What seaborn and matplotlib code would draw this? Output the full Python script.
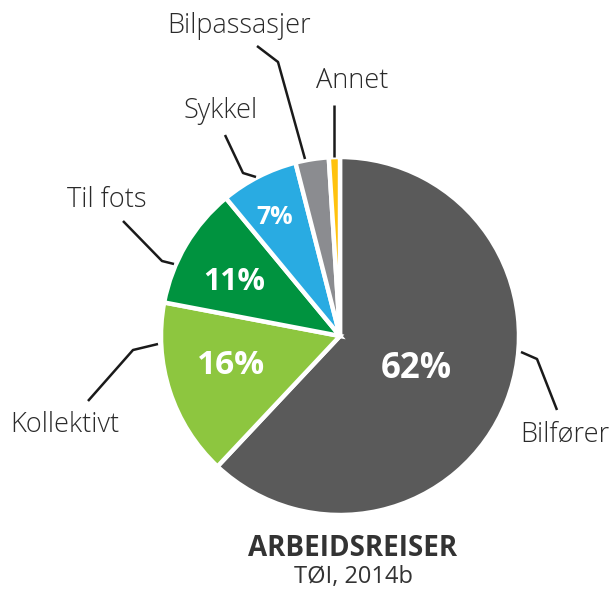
import matplotlib
matplotlib.use("Agg")
import matplotlib.pyplot as plt
import seaborn as sns

sns.set_theme(style="white")
plt.rcParams['font.family'] = ['Open Sans', 'DejaVu Sans']

# data
categories = ["Bilfører", "Kollektivt", "Til fots", "Sykkel", "Bilpassasjer", "Annet"]
shares = [62, 16, 11, 7, 3, 1]
pct_labels = ["62%", "16%", "11%", "7%", "", ""]
colors = ["#5a5a5a", "#8dc63f", "#00933f", "#29abe2", "#8b8c90", "#ffc20e"]
title = "ARBEIDSREISER"
source = "TØI, 2014b"

W, H = 613, 589
fig = plt.figure(figsize=(W / 100, H / 100), dpi=100)
ax = fig.add_axes([0, 0, 1, 1])

center = (340, H - 336)
radius = 179
wedges, _ = ax.pie(
    shares,
    colors=colors,
    startangle=90,
    counterclock=False,
    center=center,
    radius=radius,
    wedgeprops=dict(edgecolor="white", linewidth=3.2),
)
ax.set_xlim(0, W)
ax.set_ylim(0, H)
ax.axis("off")

# percent labels inside (image pixel coords, size in pt)
pct_pos = [(416, 369, 25), (231, 366, 24), (234, 282, 22), (275, 217, 18)]
for txt, (x, y, s) in zip(pct_labels, pct_pos):
    ax.text(x, H - y, txt, ha="center", va="center", color="white",
            fontsize=s, fontweight="bold")

# leader lines and outside labels (image pixel coords)
leaders = {
    "Bilfører": [(521, 352), (537, 359), (557, 410)],
    "Kollektivt": [(158, 344), (133, 350), (88, 401)],
    "Til fots": [(174, 264), (162, 261), (123, 221)],
    "Sykkel": [(256, 177), (243, 173), (225, 135)],
    "Bilpassasjer": [(305, 159), (278, 62), (257, 46)],
    "Annet": [(334, 157), (334, 105)],
}
label_pos = {
    "Bilfører": (565, 442),
    "Kollektivt": (65, 432),
    "Til fots": (107, 207),
    "Sykkel": (221, 118),
    "Bilpassasjer": (239, 33),
    "Annet": (352, 88),
}
for name in categories:
    pts = leaders[name]
    ax.plot([p[0] for p in pts], [H - p[1] for p in pts],
            color="#1a1a1a", lw=1.8, solid_capstyle="butt")
    x, y = label_pos[name]
    ax.text(x, H - y, name, ha="center", va="baseline", color="#2a2a2a",
            fontsize=19.5, fontweight="light")

ax.text(353, H - 548, title, ha="center", va="center", color="#333333",
        fontsize=20, fontweight="bold")
ax.text(354, H - 577, source, ha="center", va="center", color="#333333",
        fontsize=17)

fig.savefig("out.png", dpi=100)
